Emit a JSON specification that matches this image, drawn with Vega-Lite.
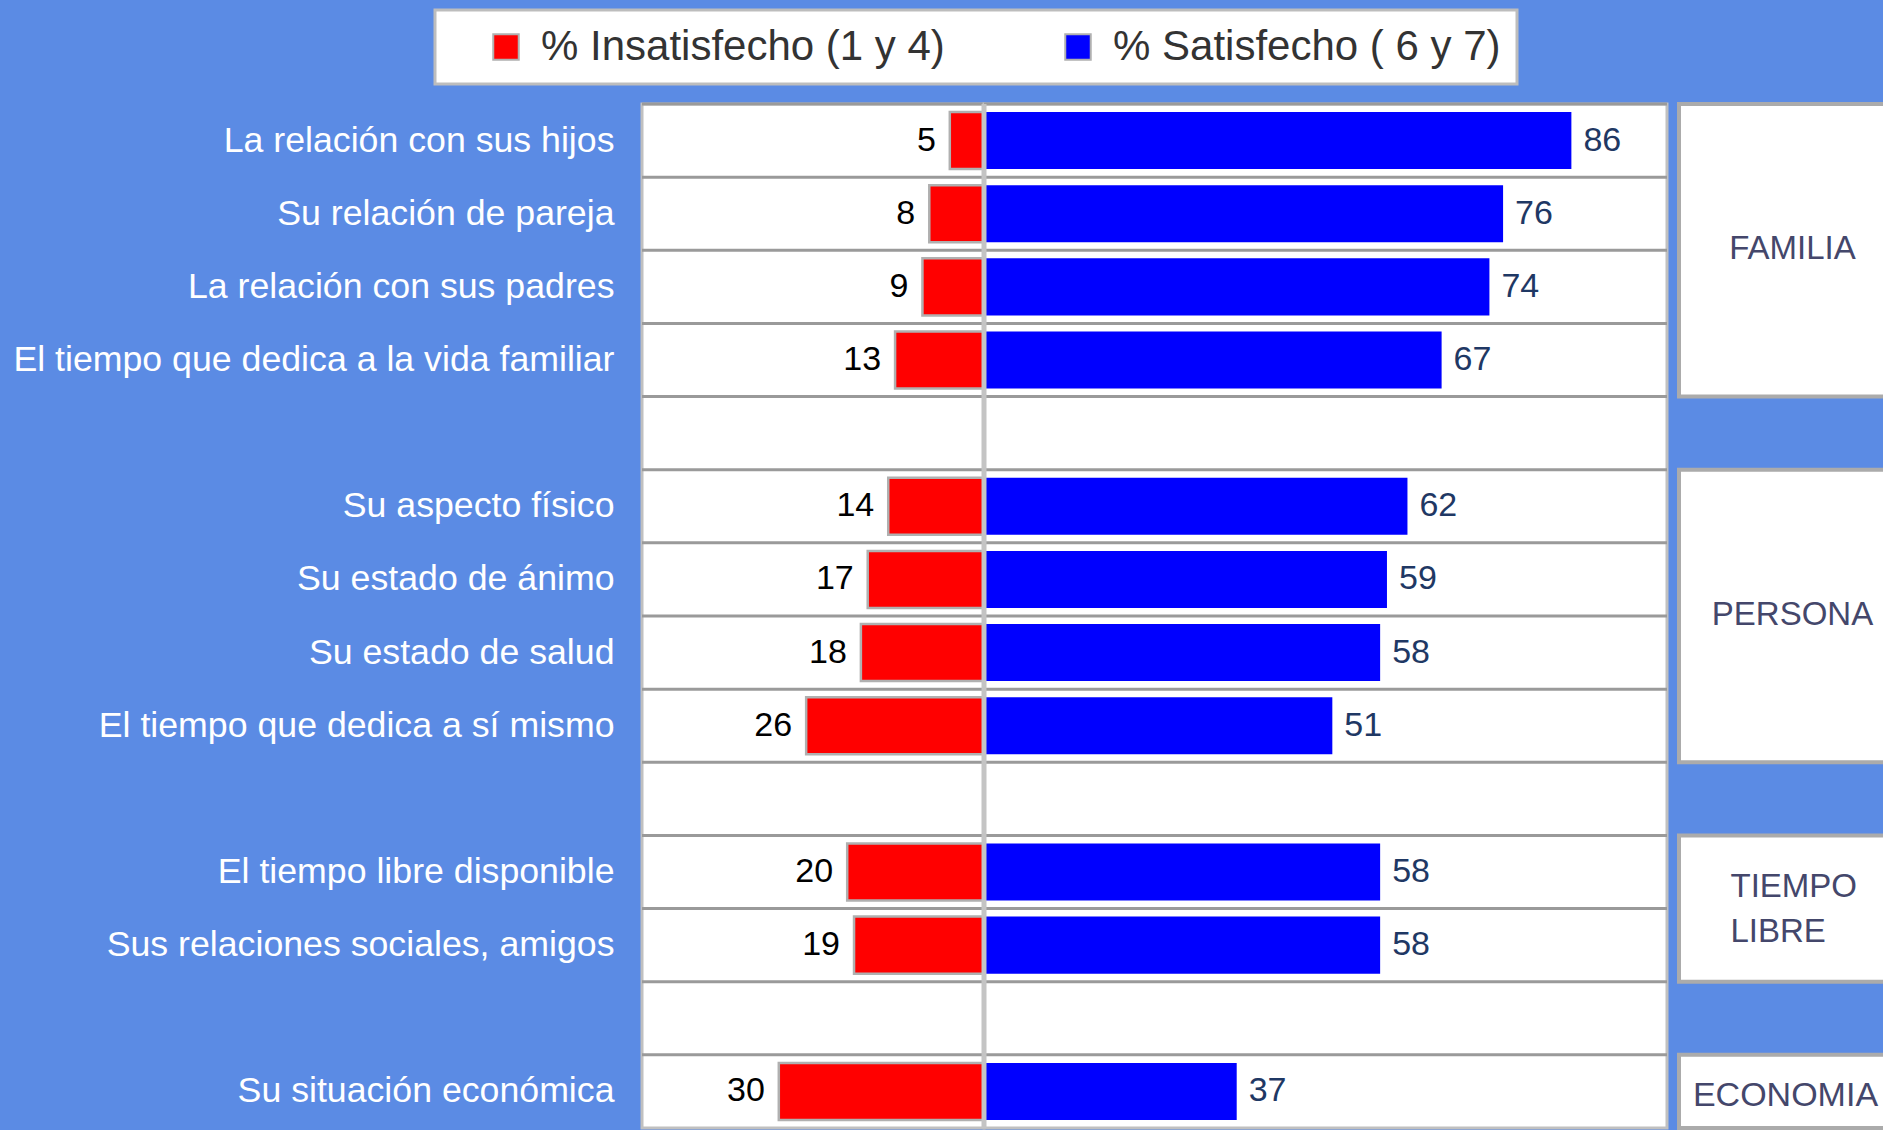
{
  "$schema": "https://vega.github.io/schema/vega-lite/v6.json",
  "background": "#5B8BE4",
  "padding": {"left": 11, "top": 8, "right": 0, "bottom": 0},
  "autosize": {"type": "pad"},
  "datasets": {
    "rows": [
      {"item": "La relación con sus hijos"},
      {"item": "Su relación de pareja"},
      {"item": "La relación con sus padres"},
      {"item": "El tiempo que dedica a la vida familiar"},
      {"item": " "},
      {"item": "Su aspecto físico"},
      {"item": "Su estado de ánimo"},
      {"item": "Su estado de salud"},
      {"item": "El tiempo que dedica a sí mismo"},
      {"item": "  "},
      {"item": "El tiempo libre disponible"},
      {"item": "Sus relaciones sociales, amigos"},
      {"item": "   "},
      {"item": "Su situación económica"}
    ],
    "values": [
      {"item": "La relación con sus hijos", "measure": "% Insatisfecho (1 y 4)", "value": 5},
      {"item": "La relación con sus hijos", "measure": "% Satisfecho ( 6 y 7)", "value": 86},
      {"item": "Su relación de pareja", "measure": "% Insatisfecho (1 y 4)", "value": 8},
      {"item": "Su relación de pareja", "measure": "% Satisfecho ( 6 y 7)", "value": 76},
      {"item": "La relación con sus padres", "measure": "% Insatisfecho (1 y 4)", "value": 9},
      {"item": "La relación con sus padres", "measure": "% Satisfecho ( 6 y 7)", "value": 74},
      {"item": "El tiempo que dedica a la vida familiar", "measure": "% Insatisfecho (1 y 4)", "value": 13},
      {"item": "El tiempo que dedica a la vida familiar", "measure": "% Satisfecho ( 6 y 7)", "value": 67},
      {"item": "Su aspecto físico", "measure": "% Insatisfecho (1 y 4)", "value": 14},
      {"item": "Su aspecto físico", "measure": "% Satisfecho ( 6 y 7)", "value": 62},
      {"item": "Su estado de ánimo", "measure": "% Insatisfecho (1 y 4)", "value": 17},
      {"item": "Su estado de ánimo", "measure": "% Satisfecho ( 6 y 7)", "value": 59},
      {"item": "Su estado de salud", "measure": "% Insatisfecho (1 y 4)", "value": 18},
      {"item": "Su estado de salud", "measure": "% Satisfecho ( 6 y 7)", "value": 58},
      {"item": "El tiempo que dedica a sí mismo", "measure": "% Insatisfecho (1 y 4)", "value": 26},
      {"item": "El tiempo que dedica a sí mismo", "measure": "% Satisfecho ( 6 y 7)", "value": 51},
      {"item": "El tiempo libre disponible", "measure": "% Insatisfecho (1 y 4)", "value": 20},
      {"item": "El tiempo libre disponible", "measure": "% Satisfecho ( 6 y 7)", "value": 58},
      {"item": "Sus relaciones sociales, amigos", "measure": "% Insatisfecho (1 y 4)", "value": 19},
      {"item": "Sus relaciones sociales, amigos", "measure": "% Satisfecho ( 6 y 7)", "value": 58},
      {"item": "Su situación económica", "measure": "% Insatisfecho (1 y 4)", "value": 30},
      {"item": "Su situación económica", "measure": "% Satisfecho ( 6 y 7)", "value": 37}
    ],
    "groups": [
      {"group": "FAMILIA", "first": "La relación con sus hijos", "last": "El tiempo que dedica a la vida familiar", "mid": "La relación con sus padres", "n": 4},
      {"group": "PERSONA", "first": "Su aspecto físico", "last": "El tiempo que dedica a sí mismo", "mid": "Su estado de salud", "n": 4},
      {"group": "TIEMPO\nLIBRE", "first": "El tiempo libre disponible", "last": "Sus relaciones sociales, amigos", "mid": "Sus relaciones sociales, amigos", "n": 2},
      {"group": "ECONOMIA", "first": "Su situación económica", "last": "Su situación económica", "mid": "Su situación económica", "n": 1}
    ]
  },
  "spacing": 7,
  "hconcat": [
    {
      "spacing": 0,
      "bounds": "flush",
      "hconcat": [
        {
          "width": 342,
          "height": 1024,
          "layer": [
            {
              "data": {"name": "rows"},
              "mark": {"type": "rule", "color": "#9A9A9A", "strokeWidth": 3},
              "encoding": {
                "y": {"field": "item", "type": "nominal", "bandPosition": 0,
                  "scale": {"domain": ["La relación con sus hijos", "Su relación de pareja", "La relación con sus padres", "El tiempo que dedica a la vida familiar", " ", "Su aspecto físico", "Su estado de ánimo", "Su estado de salud", "El tiempo que dedica a sí mismo", "  ", "El tiempo libre disponible", "Sus relaciones sociales, amigos", "   ", "Su situación económica"], "paddingInner": 0, "paddingOuter": 0},
                  "axis": {"title": null, "ticks": false, "domain": false, "labelColor": "white", "labelFontSize": 35.7, "labelFont": "Liberation Sans", "labelPadding": 28, "labelLimit": 800, "bandPosition": 0.5, "grid": false}
                }
              }
            },
            {
              "data": {"name": "values"},
              "transform": [{"filter": "datum.measure === '% Insatisfecho (1 y 4)'"}],
              "mark": {"type": "bar", "stroke": "#B0B0B0", "strokeWidth": 2.5, "height": {"band": 0.78}},
              "encoding": {
                "y": {"field": "item", "type": "nominal"},
                "x": {"field": "value", "type": "quantitative", "scale": {"domain": [0, 50], "reverse": true, "nice": false}, "axis": null},
                "color": {"field": "measure", "type": "nominal",
                  "scale": {"domain": ["% Insatisfecho (1 y 4)", "% Satisfecho ( 6 y 7)"], "range": ["#FF0000", "#0000FF"]},
                  "legend": {"orient": "none", "legendX": -207, "legendY": -94, "direction": "horizontal", "title": " ", "titleOrient": "left", "titleFontSize": 10, "titlePadding": 34, "labelExpr": "datum.value === '% Satisfecho ( 6 y 7)' ? datum.label + '\u00a0\u00a0\u00a0\u00a0' : datum.label"}
                }
              }
            },
            {
              "data": {"name": "values"},
              "transform": [{"filter": "datum.measure === '% Insatisfecho (1 y 4)'"}],
              "mark": {"type": "text", "align": "right", "baseline": "middle", "dx": -14, "fontSize": 34, "font": "Liberation Sans", "color": "#000000"},
              "encoding": {
                "y": {"field": "item", "type": "nominal"},
                "x": {"field": "value", "type": "quantitative"},
                "text": {"field": "value", "type": "quantitative"}
              }
            }
          ]
        },
        {
          "width": 683,
          "height": 1024,
          "layer": [
            {
              "data": {"name": "rows"},
              "mark": {"type": "rule", "color": "#9A9A9A", "strokeWidth": 3},
              "encoding": {
                "y": {"field": "item", "type": "nominal", "bandPosition": 0,
                  "scale": {"domain": ["La relación con sus hijos", "Su relación de pareja", "La relación con sus padres", "El tiempo que dedica a la vida familiar", " ", "Su aspecto físico", "Su estado de ánimo", "Su estado de salud", "El tiempo que dedica a sí mismo", "  ", "El tiempo libre disponible", "Sus relaciones sociales, amigos", "   ", "Su situación económica"], "paddingInner": 0, "paddingOuter": 0},
                  "axis": null
                }
              }
            },
            {
              "data": {"name": "values"},
              "transform": [{"filter": "datum.measure === '% Satisfecho ( 6 y 7)'"}],
              "mark": {"type": "bar", "height": {"band": 0.78}},
              "encoding": {
                "y": {"field": "item", "type": "nominal"},
                "x": {"field": "value", "type": "quantitative", "scale": {"domain": [0, 100], "nice": false}, "axis": null},
                "color": {"field": "measure", "type": "nominal",
                  "scale": {"domain": ["% Insatisfecho (1 y 4)", "% Satisfecho ( 6 y 7)"], "range": ["#FF0000", "#0000FF"]},
                  "legend": {"orient": "none", "legendX": -207, "legendY": -94, "direction": "horizontal", "title": " ", "titleOrient": "left", "titleFontSize": 10, "titlePadding": 34, "labelExpr": "datum.value === '% Satisfecho ( 6 y 7)' ? datum.label + '\u00a0\u00a0\u00a0\u00a0' : datum.label"}
                }
              }
            },
            {
              "data": {"name": "values"},
              "transform": [{"filter": "datum.measure === '% Satisfecho ( 6 y 7)'"}],
              "mark": {"type": "text", "align": "left", "baseline": "middle", "dx": 12, "fontSize": 34, "font": "Liberation Sans", "color": "#1F3864"},
              "encoding": {
                "y": {"field": "item", "type": "nominal"},
                "x": {"field": "value", "type": "quantitative"},
                "text": {"field": "value", "type": "quantitative"}
              }
            },
            {
              "data": {"values": [{"zero": 0}]},
              "mark": {"type": "rule", "color": "#C4C4C4", "strokeWidth": 5},
              "encoding": {
                "x": {"field": "zero", "type": "quantitative"}
              }
            }
          ]
        }
      ]
    },
    {
      "width": 207,
      "height": 1024,
      "view": {"stroke": null, "fill": null},
      "data": {"name": "groups"},
      "layer": [
        {
          "mark": {"type": "rect", "fill": "white", "stroke": "#ABABAB", "strokeWidth": 4},
          "encoding": {
            "y": {"field": "first", "type": "nominal", "bandPosition": 0,
              "scale": {"domain": ["La relación con sus hijos", "Su relación de pareja", "La relación con sus padres", "El tiempo que dedica a la vida familiar", " ", "Su aspecto físico", "Su estado de ánimo", "Su estado de salud", "El tiempo que dedica a sí mismo", "  ", "El tiempo libre disponible", "Sus relaciones sociales, amigos", "   ", "Su situación económica"], "paddingInner": 0, "paddingOuter": 0},
              "axis": null},
            "y2": {"field": "last", "bandPosition": 1}
          }
        },
        {
          "transform": [{"filter": "datum.n === 4"}],
          "mark": {"type": "text", "align": "center", "baseline": "middle", "fontSize": 33, "font": "Liberation Sans", "color": "#44476B", "dx": 10, "dy": -1},
          "encoding": {
            "y": {"field": "mid", "type": "nominal", "bandPosition": 0},
            "text": {"field": "group", "type": "nominal"}
          }
        },
        {
          "transform": [{"filter": "datum.n === 2"}],
          "mark": {"type": "text", "align": "left", "baseline": "middle", "fontSize": 33, "font": "Liberation Sans", "color": "#44476B", "lineBreak": "\n", "lineHeight": 45, "dx": -52, "dy": -22},
          "encoding": {
            "y": {"field": "mid", "type": "nominal", "bandPosition": 0},
            "text": {"field": "group", "type": "nominal"}
          }
        },
        {
          "transform": [{"filter": "datum.n === 1"}],
          "mark": {"type": "text", "align": "center", "baseline": "middle", "fontSize": 34, "font": "Liberation Sans", "color": "#44476B", "dx": 3, "dy": 5},
          "encoding": {
            "y": {"field": "mid", "type": "nominal", "bandPosition": 0.5},
            "text": {"field": "group", "type": "nominal"}
          }
        }
      ]
    }
  ],
  "config": {
    "view": {"stroke": "#C0C0C0", "strokeWidth": 3, "fill": "white"},
    "font": "Liberation Sans",
    "legend": {
      "fillColor": "white",
      "strokeColor": "#BDBDBD",
      "strokeWidth": 3,
      "padding": 16,
      "labelFont": "Liberation Sans",
      "labelFontSize": 42,
      "labelColor": "#333333",
      "labelLimit": 700,
      "symbolType": "square",
      "symbolSize": 650,
      "symbolStrokeColor": "#B0B0B0",
      "symbolStrokeWidth": 2,
      "symbolOpacity": 1,
      "labelOffset": 14,
      "columnPadding": 112,
      "gridAlign": "each"
    }
  }
}
